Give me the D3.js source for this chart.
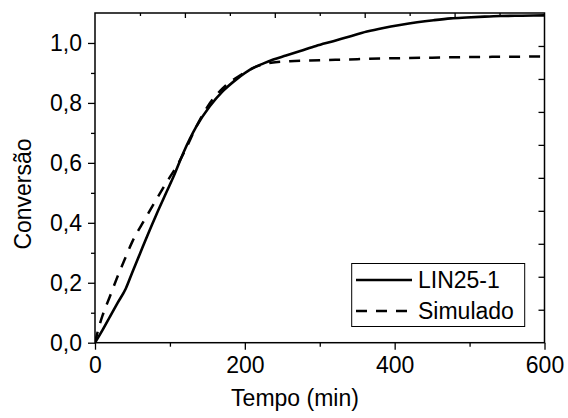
<!DOCTYPE html>
<html>
<head>
<meta charset="utf-8">
<script src="https://cdn.jsdelivr.net/npm/d3@7"></script>
<style>
  html, body { margin: 0; padding: 0; background: #fff; }
  svg text { font-family: "Liberation Sans", Arial, sans-serif; fill: #000; }
</style>
</head>
<body>
<svg id="chart" width="568" height="418"></svg>
<script>
// Measured conversion (LIN25-1) over time, minutes
const expTime = [0, 10, 20, 30, 41, 50, 60, 70, 82, 95, 105, 118, 135, 153, 171, 190, 207, 225, 238, 255, 274, 295, 318, 340, 363, 385, 407, 430, 452, 475, 496, 520, 541, 570, 600];
const expConv = [0, 0.042, 0.087, 0.132, 0.18, 0.236, 0.297, 0.358, 0.428, 0.50, 0.555, 0.634, 0.72, 0.788, 0.84, 0.881, 0.911, 0.932, 0.945, 0.958, 0.973, 0.99, 1.006, 1.022, 1.038, 1.05, 1.06, 1.069, 1.076, 1.082, 1.085, 1.088, 1.09, 1.091, 1.092];

// Simulated conversion
const simTime = [0, 5, 10, 20, 30, 40, 50, 65, 80, 95, 110, 120, 135, 150, 170, 195, 215, 235, 260, 300, 350, 400, 450, 500, 550, 600];
const simConv = [0, 0.05, 0.09, 0.155, 0.22, 0.28, 0.338, 0.405, 0.47, 0.533, 0.593, 0.64, 0.72, 0.787, 0.848, 0.894, 0.921, 0.934, 0.939, 0.942, 0.946, 0.949, 0.951, 0.953, 0.954, 0.955];

const xTicks = [0, 200, 400, 600];
const xMinor = [100, 300, 500];
const yTicks = [0, 0.2, 0.4, 0.6, 0.8, 1.0];
const yMinor = [0.1, 0.3, 0.5, 0.7, 0.9];
const topMajor = [120, 240, 360, 480];
const topMinor = [60, 180, 300, 420, 540];
const seriesNames = ["LIN25-1", "Simulado"];
const xTitle = "Tempo (min)";
const yTitle = "Conversão";

const margin = { left: 95, top: 13, right: 23.5, bottom: 75.3 };
const W = 568, H = 418;
const pw = W - margin.left - margin.right;
const ph = H - margin.top - margin.bottom;

const svg = d3.select("#chart");
const g = svg.append("g").attr("transform", `translate(${margin.left},${margin.top})`);

const x = d3.scaleLinear().domain([0, 600]).range([0, pw]);
const y = d3.scaleLinear().domain([0, 1.1]).range([ph, 0]);
const fmt = d => d3.format(".1f")(d).replace(".", ",");
const fontSize = 23;

// Bottom axis: major + minor outward ticks
const bottomAxis = g.append("g").attr("transform", `translate(0,${ph})`);
bottomAxis.call(d3.axisBottom(x).tickValues(xTicks).tickSize(7).tickPadding(7).tickFormat(d3.format("d")));
bottomAxis.append("g").call(d3.axisBottom(x).tickValues(xMinor).tickSize(4).tickFormat(""));

// Left axis
const leftAxis = g.append("g");
leftAxis.call(d3.axisLeft(y).tickValues(yTicks).tickSize(7).tickPadding(6).tickFormat(fmt));
leftAxis.append("g").call(d3.axisLeft(y).tickValues(yMinor).tickSize(4).tickFormat(""));

// Top axis: inward ticks
const topAxis = g.append("g");
topAxis.call(d3.axisBottom(x).tickValues(topMajor).tickSize(5).tickFormat(""));
topAxis.append("g").call(d3.axisBottom(x).tickValues(topMinor).tickSize(3).tickFormat(""));

// Right axis: ten equal divisions, inward ticks
const yr = d3.scaleLinear().domain([0, 10]).range([ph, 0]);
const rightAxis = g.append("g").attr("transform", `translate(${pw},0)`);
rightAxis.call(d3.axisLeft(yr).tickValues(d3.range(1, 10)).tickSize(6).tickFormat(""));

g.selectAll(".domain").remove();
g.selectAll(".tick line").attr("stroke", "#000").attr("stroke-width", 1.3);
g.selectAll(".tick text").attr("font-size", fontSize).attr("font-family", '"Liberation Sans", Arial, sans-serif').attr("fill", "#000");

// Frame
g.append("rect").attr("x", 0).attr("y", 0).attr("width", pw).attr("height", ph)
  .attr("fill", "none").attr("stroke", "#000").attr("stroke-width", 1.5);

// Curves
g.append("clipPath").attr("id", "plotclip").append("rect")
  .attr("width", pw).attr("height", ph);

const line = d3.line().x(d => x(d[0])).y(d => y(d[1])).curve(d3.curveMonotoneX);
const expData = expTime.map((t, i) => [t, expConv[i]]);
const simData = simTime.map((t, i) => [t, simConv[i]]);

g.append("path").datum(simData).attr("d", line)
  .attr("fill", "none").attr("stroke", "#000").attr("stroke-width", 2.5)
  .attr("stroke-dasharray", "11,9").attr("clip-path", "url(#plotclip)");
g.append("path").datum(expData).attr("d", line)
  .attr("fill", "none").attr("stroke", "#000").attr("stroke-width", 2.6)
  .attr("clip-path", "url(#plotclip)");

// Axis titles
svg.append("text").attr("x", 295).attr("y", 406)
  .attr("text-anchor", "middle").attr("font-size", fontSize).text(xTitle);
svg.append("text").attr("transform", `translate(31,194) rotate(-90)`)
  .attr("text-anchor", "middle").attr("font-size", fontSize).text(yTitle);

// Legend
const lg = svg.append("g");
lg.append("rect").attr("x", 351.7).attr("y", 263.5).attr("width", 173).attr("height", 63)
  .attr("fill", "#fff").attr("stroke", "#000").attr("stroke-width", 1);
const legendRows = [
  { name: seriesNames[0], dash: null, y: 280 },
  { name: seriesNames[1], dash: "11,9", y: 311 }
];
legendRows.forEach(r => {
  lg.append("line").attr("x1", 356).attr("x2", 412).attr("y1", r.y).attr("y2", r.y)
    .attr("stroke", "#000").attr("stroke-width", 2.5)
    .attr("stroke-dasharray", r.dash);
  lg.append("text").attr("x", 418).attr("y", r.y + 8).attr("font-size", fontSize).text(r.name);
});
</script>
</body>
</html>
